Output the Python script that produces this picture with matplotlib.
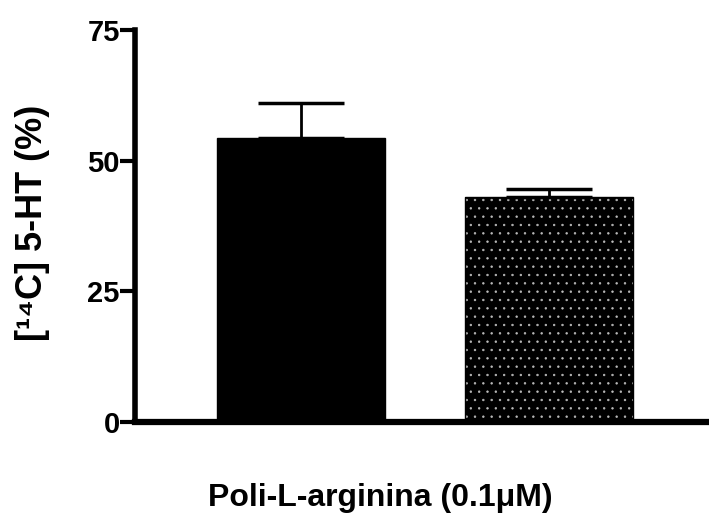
import matplotlib
matplotlib.use("Agg")
import matplotlib.pyplot as plt
from matplotlib import font_manager

categories = ["Control", "Poli-L-arginina"]
values = [54.3, 43.0]
errors = [6.7, 1.6]
yticks = [0, 25, 50, 75]
ylabel = "[¹⁴C] 5-HT (%)"
xlabel = "Poli-L-arginina (0.1\u03bcM)"

names = {f.name for f in font_manager.fontManager.ttflist}
fam = ["Liberation Sans Narrow", "Liberation Sans", "DejaVu Sans"]
fam = [f for f in fam if f in names] + ["DejaVu Sans"]
plt.rcParams['font.family'] = fam
plt.rcParams['font.weight'] = 'bold'
plt.rcParams['hatch.linewidth'] = 0.5

fig = plt.figure(figsize=(7.09, 5.16), dpi=100)
ax = fig.add_axes([135/709, 1-422/516, 1-135/709, (422-30)/516])

x = [0, 1]
ax.bar(x[0], values[0], width=0.676, color='black', edgecolor='black', linewidth=1)
ax.bar(x[1], values[1], width=0.676, color='black', edgecolor='#bbbbbb', hatch='..', linewidth=0)
ax.bar(x[1], values[1], width=0.676, fill=False, edgecolor='black', linewidth=1)
ax.errorbar(x, values, yerr=[[0, 0], errors], fmt='none', ecolor='black',
            elinewidth=2, capsize=31, capthick=2.5)

ax.set_xlim(-0.668, 1.642)
ax.set_ylim(0, 75)
ax.set_yticks(yticks)
ax.set_yticklabels([str(t) for t in yticks], fontsize=21, fontweight='bold')
ax.set_xticks([])
for s in ['top', 'right']:
    ax.spines[s].set_visible(False)
ax.spines['left'].set_linewidth(4)
ax.spines['bottom'].set_linewidth(4.5)
ax.tick_params(axis='y', length=11, width=3, pad=0)

fig.text(33/709, 1-223/516, ylabel, rotation=90, ha='center', va='center',
         fontsize=26, fontweight='bold')
fig.text(380/709, 1-498/516, xlabel, ha='center', va='center',
         fontsize=23, fontweight='bold')

fig.savefig("out.png", dpi=100)
